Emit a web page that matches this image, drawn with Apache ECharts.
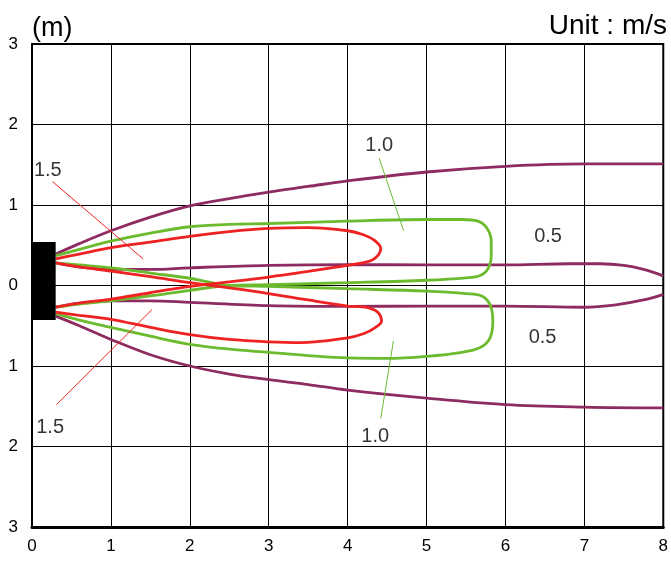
<!DOCTYPE html>
<html>
<head>
<meta charset="utf-8">
<script src="https://cdn.jsdelivr.net/npm/echarts@6/dist/echarts.min.js"></script>
<style>
  html, body { margin: 0; padding: 0; background: #fff; }
  #chart { width: 671px; height: 563px; }
</style>
</head>
<body>
<div id="chart"></div>
<script>
// axis ticks (labels show distance, so negatives are printed without sign)
const xTicks = [0, 1, 2, 3, 4, 5, 6, 7, 8];
const yTicks = [-3, -2, -1, 0, 1, 2, 3];

// transducer block: [x0, yTop, x1, yBottom]
const transducer = [[0, 0.54, 0.30, -0.43]];

// 0.5 m/s contour (purple)
const purpleUpperOuter = [[0.30, 0.39], [0.6, 0.52], [1, 0.68], [1.5, 0.85], [2, 0.99], [2.5, 1.08], [3, 1.16], [3.5, 1.23], [4, 1.30], [5, 1.41], [6, 1.48], [7, 1.51], [8, 1.51]];
const purpleUpperInner = [[0.30, 0.28], [0.6, 0.23], [1, 0.20], [1.5, 0.20], [2, 0.22], [3, 0.25], [4, 0.26], [5, 0.255], [6, 0.255], [6.8, 0.27], [7.2, 0.27], [7.5, 0.25], [7.75, 0.2], [8, 0.12]];
const purpleLowerInner = [[0.30, -0.27], [0.6, -0.22], [1, -0.19], [1.5, -0.19], [2, -0.21], [3, -0.25], [4, -0.26], [5, -0.255], [6, -0.255], [7, -0.27], [7.4, -0.24], [7.75, -0.18], [8, -0.11]];
const purpleLowerOuter = [[0.30, -0.38], [0.6, -0.50], [1, -0.67], [1.5, -0.86], [2, -1.0], [2.5, -1.1], [3, -1.17], [3.5, -1.23], [4, -1.30], [5, -1.40], [6, -1.48], [7, -1.51], [8, -1.52]];

// 1.0 m/s contour (green)
const greenUpper = [[0.30, 0.37], [0.6, 0.45], [1, 0.55], [1.5, 0.65], [2, 0.73], [2.5, 0.76], [3, 0.77], [4, 0.80], [5, 0.82], [5.45, 0.82], [5.65, 0.80], [5.76, 0.72], [5.82, 0.55], [5.82, 0.38], [5.78, 0.21], [5.68, 0.125], [5.5, 0.095], [5, 0.065], [4, 0.035], [3, 0.01], [2.5, 0.0], [2, -0.06], [1.5, -0.13], [1, -0.19], [0.6, -0.23], [0.30, -0.27]];
const greenLower = [[0.30, -0.35], [0.6, -0.43], [1, -0.52], [1.5, -0.63], [2, -0.73], [2.5, -0.79], [3, -0.83], [3.5, -0.87], [4, -0.90], [4.5, -0.905], [5, -0.88], [5.45, -0.83], [5.68, -0.77], [5.8, -0.66], [5.84, -0.45], [5.81, -0.25], [5.7, -0.13], [5.5, -0.10], [5, -0.07], [4, -0.04], [3, -0.01], [2.5, 0.0], [2, 0.09], [1.5, 0.155], [1, 0.22], [0.6, 0.255], [0.30, 0.28]];

// 1.5 m/s contour (red)
const redUpper = [[0.30, 0.33], [0.6, 0.39], [1, 0.47], [1.5, 0.54], [2, 0.61], [2.5, 0.67], [3, 0.71], [3.5, 0.72], [4, 0.68], [4.2, 0.63], [4.34, 0.56], [4.42, 0.46], [4.39, 0.38], [4.3, 0.31], [4.15, 0.275], [4, 0.25], [3.5, 0.175], [3, 0.105], [2.5, 0.045], [2, -0.01], [1.5, -0.09], [1, -0.17], [0.6, -0.22], [0.30, -0.27]];
const redLower = [[0.30, -0.33], [0.6, -0.37], [1, -0.42], [1.5, -0.52], [2, -0.61], [2.5, -0.67], [3, -0.70], [3.4, -0.71], [4, -0.65], [4.2, -0.60], [4.34, -0.53], [4.43, -0.44], [4.39, -0.34], [4.28, -0.28], [4.1, -0.26], [4, -0.255], [3.5, -0.18], [3, -0.10], [2.5, -0.03], [2, 0.035], [1.5, 0.11], [1, 0.18], [0.6, 0.23], [0.30, 0.28]];

// callout labels and their leader lines
const calloutLabels = [[0.2, 1.43, '1.5'], [0.23, -1.76, '1.5'], [4.40, 1.74, '1.0'], [4.35, -1.88, '1.0'], [6.54, 0.61, '0.5'], [6.47, -0.65, '0.5']];
const redLeaderUpper = [[0.26, 1.29], [1.41, 0.33]];
const redLeaderLower = [[1.52, -0.30], [0.31, -1.48]];
const greenLeaderUpper = [[4.40, 1.58], [4.71, 0.68]];
const greenLeaderLower = [[4.58, -0.69], [4.42, -1.65]];

const PURPLE = '#8e2b60';
const GREEN = '#6cbb2f';
const RED = '#ee2222';
const FONT = 'Liberation Sans';

const curve = (data, color) => ({
  type: 'line',
  data: data,
  smooth: 0.35,
  symbol: 'none',
  lineStyle: { color: color, width: 2.8 },
  z: 3,
});

const leader = (data, color) => ({
  type: 'line',
  data: data,
  symbol: 'none',
  lineStyle: { color: color, width: 1 },
  z: 4,
});

const chart = echarts.init(document.getElementById('chart'));
chart.setOption({
  animation: false,
  title: [
    { text: '(m)', left: 32, top: 15, padding: 0, textStyle: { fontFamily: FONT, fontSize: 27, fontWeight: 'normal', color: '#000' } },
    { text: 'Unit : m/s', right: 4, top: 12, padding: 0, textStyle: { fontFamily: FONT, fontSize: 28, fontWeight: 'normal', color: '#000' } },
  ],
  grid: {
    left: 32, right: 4, top: 44, bottom: 36,
    show: true, borderColor: '#000', borderWidth: 2, backgroundColor: 'transparent',
  },
  xAxis: {
    type: 'value',
    min: xTicks[0],
    max: xTicks[xTicks.length - 1],
    interval: 1,
    axisLine: { show: true, onZero: false, lineStyle: { color: '#000', width: 3 } },
    axisTick: { show: false },
    axisLabel: { margin: 11, fontFamily: FONT, fontSize: 17, color: '#000' },
    splitLine: { show: true, lineStyle: { color: '#000', width: 1 } },
  },
  yAxis: {
    type: 'value',
    min: yTicks[0],
    max: yTicks[yTicks.length - 1],
    interval: 1,
    axisLine: { show: true, onZero: false, lineStyle: { color: '#000', width: 2 } },
    axisTick: { show: false },
    axisLabel: {
      margin: 14, fontFamily: FONT, fontSize: 17, color: '#000',
      formatter: (v) => String(Math.abs(v)),
    },
    splitLine: { show: true, lineStyle: { color: '#000', width: 1 } },
  },
  series: [
    curve(purpleUpperOuter, PURPLE),
    curve(purpleUpperInner, PURPLE),
    curve(purpleLowerInner, PURPLE),
    curve(purpleLowerOuter, PURPLE),
    curve(greenUpper, GREEN),
    curve(greenLower, GREEN),
    curve(redUpper, RED),
    curve(redLower, RED),
    leader(redLeaderUpper, RED),
    leader(redLeaderLower, RED),
    leader(greenLeaderUpper, GREEN),
    leader(greenLeaderLower, GREEN),
    {
      type: 'custom',
      data: transducer,
      z: 5,
      renderItem: (params, api) => {
        const p0 = api.coord([api.value(0), api.value(1)]);
        const p1 = api.coord([api.value(2), api.value(3)]);
        return {
          type: 'rect',
          shape: { x: p0[0], y: p0[1], width: p1[0] - p0[0], height: p1[1] - p0[1] },
          style: { fill: '#000' },
        };
      },
    },
    {
      type: 'scatter',
      data: calloutLabels,
      symbolSize: 1,
      itemStyle: { color: 'rgba(0,0,0,0)' },
      label: {
        show: true,
        position: 'inside',
        formatter: (p) => p.data[2],
        fontFamily: FONT,
        fontSize: 20,
        color: '#000',
        textBorderWidth: 0,
      },
      z: 6,
    },
  ],
});
</script>
</body>
</html>
